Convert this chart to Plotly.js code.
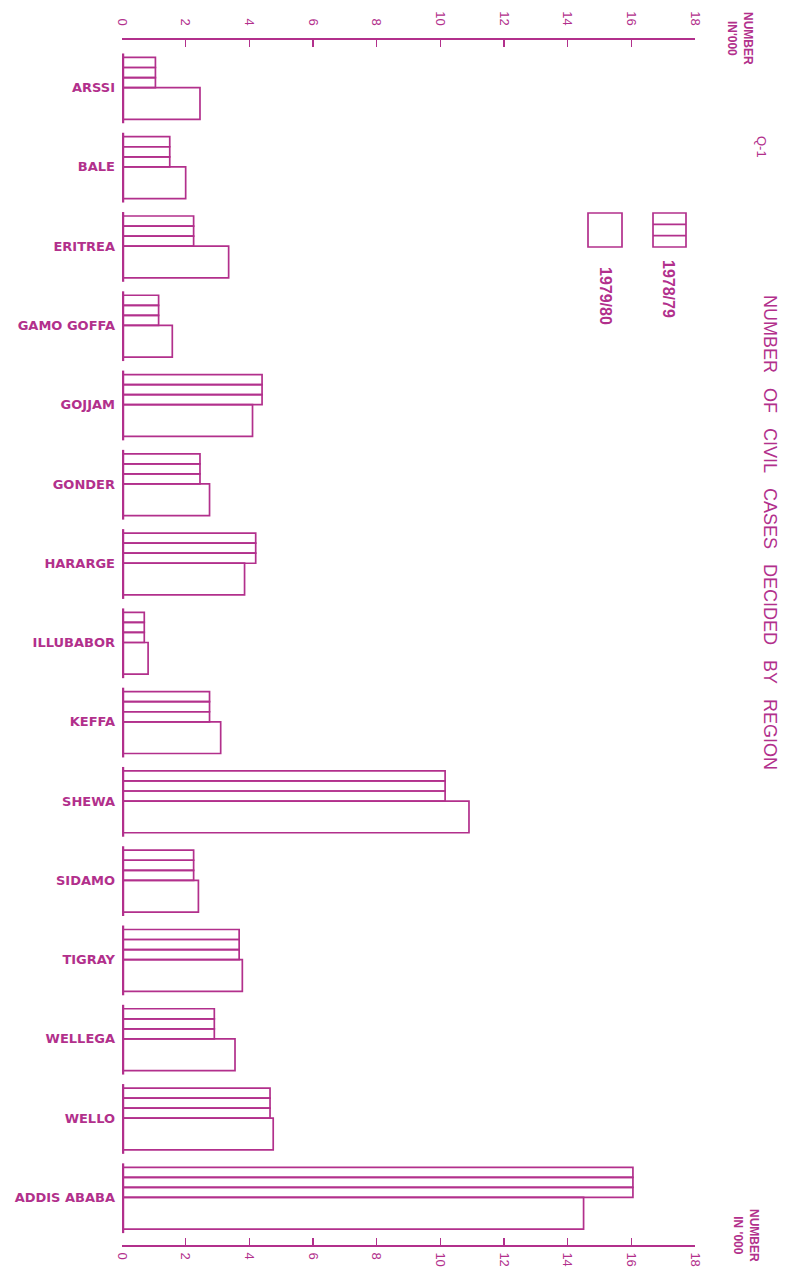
<!DOCTYPE html>
<html>
<head>
<meta charset="utf-8">
<script src="https://cdn.plot.ly/plotly-3.0.1.min.js"></script>
<style>
html,body{margin:0;padding:0;background:#fff;}
#chart{width:794px;height:1277px;}
</style>
</head>
<body>
<div id="chart"></div>
<script>
// ---- data (thousands of civil cases decided) ----
var regions = ["ARSSI","BALE","ERITREA","GAMO GOFFA","GOJJAM","GONDER","HARARGE","ILLUBABOR","KEFFA","SHEWA","SIDAMO","TIGRAY","WELLEGA","WELLO","ADDIS ABABA"];
var cases7879 = [1.05, 1.5, 2.25, 1.15, 4.4, 2.45, 4.2, 0.7, 2.75, 10.15, 2.25, 3.68, 2.9, 4.65, 16.05];
var cases7980 = [2.45, 2.0, 3.35, 1.58, 4.1, 2.75, 3.85, 0.82, 3.1, 10.9, 2.4, 3.78, 3.55, 4.75, 14.5];
var tickVals = [0,2,4,6,8,10,12,14,16,18];
var tickText = ["0","2","4","6","8","10","12","14","16","18"];
var seriesNames = ["1978/79","1979/80"];

// ---- style ----
var INK = "#b2308c";
var FONT = "Liberation Sans, Arial, sans-serif";
var BOLDFONT = "DejaVu Sans, Liberation Sans, sans-serif";
var L = 122, W = 573, T = 40, H = 1205;
function px(x){ return (x - L) / W; }
function py(y){ return 1 - (y - T) / H; }

var stripeW = 0.1267;
var traces = [];
// thick baseline segment for each region group
traces.push({
  type:"bar", orientation:"h", y: regions,
  x: regions.map(function(){ return 0.13; }), base: -0.06,
  offset: -0.43, width: 0.88,
  marker:{color: INK, line:{width:0}}, hoverinfo:"skip", showlegend:false
});
// 1978/79: drawn as three stacked stripes
[-0.38, -0.38 + stripeW, -0.38 + 2*stripeW].forEach(function(off){
  traces.push({
    type:"bar", orientation:"h", y: regions, x: cases7879,
    name: seriesNames[0], offset: off, width: stripeW,
    marker:{color:"rgba(255,255,255,0)", line:{color: INK, width: 1.7}},
    showlegend:false
  });
});
// 1979/80: open bar
traces.push({
  type:"bar", orientation:"h", y: regions, x: cases7980, xaxis:"x2",
  name: seriesNames[1], offset: 0, width: 0.40,
  marker:{color:"rgba(255,255,255,0)", line:{color: INK, width: 1.7}},
  showlegend:false
});

var axisCommon = {
  range:[0,18], tickvals: tickVals, ticktext: tickText,
  ticks:"inside", ticklen:7, tickwidth:1.6, tickcolor: INK,
  showline:true, linecolor: INK, linewidth:1.8,
  showgrid:false, zeroline:false, tickangle:90,
  tickfont:{family: FONT, size:13, color: INK}, fixedrange:true
};
var xaxis = Object.assign({}, axisCommon, {side:"top", anchor:"y", ticklabelstandoff:8});
var xaxis2 = Object.assign({}, axisCommon, {side:"bottom", overlaying:"x", anchor:"y", ticklabelstandoff:3});

// custom rotated legend
var shapes = [
  {type:"rect", xref:"paper", yref:"paper", x0:px(653), x1:px(686), y0:py(247), y1:py(213), line:{color:INK, width:1.7}},
  {type:"line", xref:"paper", yref:"paper", x0:px(653), x1:px(686), y0:py(224.3), y1:py(224.3), line:{color:INK, width:1.7}},
  {type:"line", xref:"paper", yref:"paper", x0:px(653), x1:px(686), y0:py(235.7), y1:py(235.7), line:{color:INK, width:1.7}},
  {type:"rect", xref:"paper", yref:"paper", x0:px(588), x1:px(622), y0:py(247), y1:py(213), line:{color:INK, width:1.7}}
];
function ann(text, x, y, size, bold, fam){
  return {text: bold ? "<b>"+text+"</b>" : text, xref:"paper", yref:"paper",
    x: px(x), y: py(y), textangle: 90, showarrow:false,
    xanchor:"center", yanchor:"middle",
    font:{family: fam || FONT, size: size, color: INK}};
}
var sp = "&nbsp;&nbsp;&nbsp;";
var annotations = [
  ann(seriesNames[0], 668, 289, 16, true),
  ann(seriesNames[1], 606, 296, 16, true),
  ann(["NUMBER","OF","CIVIL","CASES","DECIDED","BY","REGION"].join(sp), 770, 532, 18, false),
  ann("Q-1", 762, 147, 13, false),
  ann("NUMBER<br>IN'000", 740, 38, 12, true),
  ann("NUMBER<br>IN '000", 746, 1235, 12, true)
];

var layout = {
  width:794, height:1277,
  margin:{l:L, r:794-L-W, t:T, b:1277-T-H, pad:0},
  paper_bgcolor:"#fff", plot_bgcolor:"#fff",
  barmode:"overlay", showlegend:false,
  xaxis: xaxis, xaxis2: xaxis2,
  yaxis:{type:"category", range:[14.6,-0.6], showline:false, showgrid:false, zeroline:false,
    ticks:"", ticklabelstandoff:6, fixedrange:true,
    tickfont:{family: BOLDFONT, size:13, color: INK, weight:"bold"}},
  shapes: shapes, annotations: annotations
};
Plotly.newPlot("chart", traces, layout, {staticPlot:true, displayModeBar:false});
</script>
</body>
</html>
